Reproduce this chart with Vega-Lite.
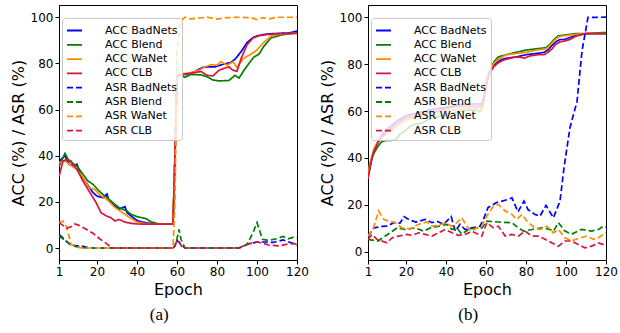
{
  "$schema": "https://vega.github.io/schema/vega-lite/v6.json",
  "padding": {"left": 9, "top": 4, "right": 0, "bottom": 0},
  "spacing": 9,
  "datasets": {
    "a": [
      {"e":1,"s":"ACC BadNets","v":36},{"e":2,"s":"ACC BadNets","v":38.4},{"e":4,"s":"ACC BadNets","v":40},{"e":6,"s":"ACC BadNets","v":36.3},{"e":9,"s":"ACC BadNets","v":35.5},{"e":10,"s":"ACC BadNets","v":36.3},{"e":12,"s":"ACC BadNets","v":31.2},{"e":14.6,"s":"ACC BadNets","v":28.3},{"e":18,"s":"ACC BadNets","v":24},{"e":20,"s":"ACC BadNets","v":22.5},{"e":23,"s":"ACC BadNets","v":21.8},{"e":25,"s":"ACC BadNets","v":23.4},{"e":26,"s":"ACC BadNets","v":20.4},{"e":29,"s":"ACC BadNets","v":18.2},{"e":31,"s":"ACC BadNets","v":16.8},{"e":34,"s":"ACC BadNets","v":17.9},{"e":35,"s":"ACC BadNets","v":15.3},{"e":37,"s":"ACC BadNets","v":13.9},{"e":40,"s":"ACC BadNets","v":11.9},{"e":43,"s":"ACC BadNets","v":11.2},{"e":46,"s":"ACC BadNets","v":10.7},{"e":50,"s":"ACC BadNets","v":10.4},{"e":58,"s":"ACC BadNets","v":10.3},{"e":59,"s":"ACC BadNets","v":40},{"e":60,"s":"ACC BadNets","v":74},{"e":61,"s":"ACC BadNets","v":75},{"e":65,"s":"ACC BadNets","v":75.3},{"e":69,"s":"ACC BadNets","v":76.5},{"e":73,"s":"ACC BadNets","v":78.3},{"e":76,"s":"ACC BadNets","v":78.5},{"e":79,"s":"ACC BadNets","v":78.5},{"e":83,"s":"ACC BadNets","v":79.6},{"e":87,"s":"ACC BadNets","v":80.5},{"e":89,"s":"ACC BadNets","v":81.8},{"e":92,"s":"ACC BadNets","v":85},{"e":95,"s":"ACC BadNets","v":89},{"e":98,"s":"ACC BadNets","v":91.2},{"e":100,"s":"ACC BadNets","v":91.9},{"e":104,"s":"ACC BadNets","v":92.6},{"e":108,"s":"ACC BadNets","v":92.9},{"e":116,"s":"ACC BadNets","v":93.2},{"e":120,"s":"ACC BadNets","v":94},
      {"e":1,"s":"ACC Blend","v":35.5},{"e":4,"s":"ACC Blend","v":41},{"e":6,"s":"ACC Blend","v":37.7},{"e":10,"s":"ACC Blend","v":35.5},{"e":13,"s":"ACC Blend","v":31.9},{"e":15.5,"s":"ACC Blend","v":29},{"e":18,"s":"ACC Blend","v":27.6},{"e":21,"s":"ACC Blend","v":24.7},{"e":25,"s":"ACC Blend","v":21.8},{"e":28,"s":"ACC Blend","v":19.6},{"e":31,"s":"ACC Blend","v":17.5},{"e":35,"s":"ACC Blend","v":16},{"e":37,"s":"ACC Blend","v":14.6},{"e":40,"s":"ACC Blend","v":13.6},{"e":44.6,"s":"ACC Blend","v":12.7},{"e":47,"s":"ACC Blend","v":11.3},{"e":50,"s":"ACC Blend","v":10.6},{"e":53,"s":"ACC Blend","v":10.3},{"e":58,"s":"ACC Blend","v":10.3},{"e":59,"s":"ACC Blend","v":40},{"e":60,"s":"ACC Blend","v":74},{"e":61,"s":"ACC Blend","v":75},{"e":64,"s":"ACC Blend","v":74},{"e":67,"s":"ACC Blend","v":75.2},{"e":72,"s":"ACC Blend","v":75},{"e":75,"s":"ACC Blend","v":74.2},{"e":78,"s":"ACC Blend","v":72.8},{"e":81,"s":"ACC Blend","v":72.4},{"e":86,"s":"ACC Blend","v":72.6},{"e":89,"s":"ACC Blend","v":74.8},{"e":91,"s":"ACC Blend","v":73.6},{"e":93.5,"s":"ACC Blend","v":77},{"e":96,"s":"ACC Blend","v":80},{"e":98.5,"s":"ACC Blend","v":82.8},{"e":101,"s":"ACC Blend","v":84},{"e":103.5,"s":"ACC Blend","v":87.5},{"e":107,"s":"ACC Blend","v":91},{"e":112,"s":"ACC Blend","v":92.3},{"e":120,"s":"ACC Blend","v":93.3},
      {"e":1,"s":"ACC WaNet","v":37},{"e":4,"s":"ACC WaNet","v":37.8},{"e":6,"s":"ACC WaNet","v":36.3},{"e":10,"s":"ACC WaNet","v":34},{"e":13,"s":"ACC WaNet","v":30.5},{"e":16,"s":"ACC WaNet","v":26.1},{"e":19,"s":"ACC WaNet","v":25.4},{"e":21,"s":"ACC WaNet","v":23.3},{"e":25,"s":"ACC WaNet","v":21},{"e":29,"s":"ACC WaNet","v":17.5},{"e":32,"s":"ACC WaNet","v":15.8},{"e":35,"s":"ACC WaNet","v":14},{"e":37,"s":"ACC WaNet","v":12.8},{"e":40,"s":"ACC WaNet","v":11.2},{"e":43,"s":"ACC WaNet","v":10.7},{"e":48,"s":"ACC WaNet","v":10.3},{"e":58,"s":"ACC WaNet","v":10.3},{"e":59,"s":"ACC WaNet","v":40},{"e":60,"s":"ACC WaNet","v":74},{"e":61,"s":"ACC WaNet","v":75.3},{"e":67,"s":"ACC WaNet","v":76},{"e":71,"s":"ACC WaNet","v":77},{"e":74,"s":"ACC WaNet","v":78.5},{"e":77,"s":"ACC WaNet","v":79.4},{"e":80,"s":"ACC WaNet","v":79.2},{"e":82,"s":"ACC WaNet","v":80.8},{"e":85,"s":"ACC WaNet","v":79.2},{"e":88,"s":"ACC WaNet","v":80.7},{"e":90,"s":"ACC WaNet","v":78.2},{"e":93,"s":"ACC WaNet","v":82},{"e":97,"s":"ACC WaNet","v":84},{"e":100,"s":"ACC WaNet","v":85.8},{"e":103,"s":"ACC WaNet","v":88.8},{"e":107,"s":"ACC WaNet","v":91.8},{"e":112,"s":"ACC WaNet","v":92.8},{"e":120,"s":"ACC WaNet","v":93},
      {"e":1,"s":"ACC CLB","v":31},{"e":3,"s":"ACC CLB","v":37.7},{"e":5,"s":"ACC CLB","v":38.4},{"e":7,"s":"ACC CLB","v":37.7},{"e":10,"s":"ACC CLB","v":34},{"e":13,"s":"ACC CLB","v":29},{"e":16,"s":"ACC CLB","v":24.7},{"e":19.6,"s":"ACC CLB","v":19.6},{"e":22,"s":"ACC CLB","v":15.3},{"e":24.6,"s":"ACC CLB","v":13.9},{"e":27,"s":"ACC CLB","v":13.1},{"e":29,"s":"ACC CLB","v":11.7},{"e":31,"s":"ACC CLB","v":12.4},{"e":34,"s":"ACC CLB","v":11.2},{"e":37,"s":"ACC CLB","v":10.7},{"e":40,"s":"ACC CLB","v":10.4},{"e":58,"s":"ACC CLB","v":10.3},{"e":59,"s":"ACC CLB","v":40},{"e":60,"s":"ACC CLB","v":74},{"e":61,"s":"ACC CLB","v":75},{"e":65,"s":"ACC CLB","v":75.5},{"e":69,"s":"ACC CLB","v":76},{"e":72,"s":"ACC CLB","v":76.5},{"e":75,"s":"ACC CLB","v":74.8},{"e":78,"s":"ACC CLB","v":74.6},{"e":81,"s":"ACC CLB","v":77},{"e":84,"s":"ACC CLB","v":78},{"e":86,"s":"ACC CLB","v":78.5},{"e":88,"s":"ACC CLB","v":77},{"e":90,"s":"ACC CLB","v":76.6},{"e":92,"s":"ACC CLB","v":82},{"e":95,"s":"ACC CLB","v":88},{"e":98,"s":"ACC CLB","v":91},{"e":101,"s":"ACC CLB","v":92},{"e":105,"s":"ACC CLB","v":92.5},{"e":110,"s":"ACC CLB","v":92.8},{"e":120,"s":"ACC CLB","v":93},
      {"e":1,"s":"ASR BadNets","v":5.9},{"e":4.6,"s":"ASR BadNets","v":3},{"e":7,"s":"ASR BadNets","v":1.2},{"e":10,"s":"ASR BadNets","v":0.9},{"e":12,"s":"ASR BadNets","v":0.9},{"e":15,"s":"ASR BadNets","v":0.3},{"e":18,"s":"ASR BadNets","v":0},{"e":58,"s":"ASR BadNets","v":0},{"e":59,"s":"ASR BadNets","v":1},{"e":60,"s":"ASR BadNets","v":3.3},{"e":61,"s":"ASR BadNets","v":2.5},{"e":62,"s":"ASR BadNets","v":1.5},{"e":64,"s":"ASR BadNets","v":0},{"e":91,"s":"ASR BadNets","v":0},{"e":95,"s":"ASR BadNets","v":1.5},{"e":100,"s":"ASR BadNets","v":2.6},{"e":104,"s":"ASR BadNets","v":2.6},{"e":108,"s":"ASR BadNets","v":2.4},{"e":113,"s":"ASR BadNets","v":3.5},{"e":116,"s":"ASR BadNets","v":2.6},{"e":120,"s":"ASR BadNets","v":1.2},
      {"e":1,"s":"ASR Blend","v":5.2},{"e":4.6,"s":"ASR Blend","v":3},{"e":7,"s":"ASR Blend","v":1.2},{"e":10,"s":"ASR Blend","v":0.5},{"e":13,"s":"ASR Blend","v":0.2},{"e":15,"s":"ASR Blend","v":0},{"e":58,"s":"ASR Blend","v":0},{"e":59,"s":"ASR Blend","v":1},{"e":60,"s":"ASR Blend","v":4},{"e":61,"s":"ASR Blend","v":8.1},{"e":62,"s":"ASR Blend","v":3.8},{"e":64,"s":"ASR Blend","v":0},{"e":91,"s":"ASR Blend","v":0},{"e":95,"s":"ASR Blend","v":1.6},{"e":98,"s":"ASR Blend","v":6.6},{"e":100,"s":"ASR Blend","v":11},{"e":102.7,"s":"ASR Blend","v":3.8},{"e":105.5,"s":"ASR Blend","v":3.3},{"e":109.7,"s":"ASR Blend","v":4},{"e":113,"s":"ASR Blend","v":5},{"e":115.5,"s":"ASR Blend","v":4},{"e":118,"s":"ASR Blend","v":4.6},{"e":120,"s":"ASR Blend","v":4.5},
      {"e":1,"s":"ASR WaNet","v":11},{"e":3,"s":"ASR WaNet","v":11.7},{"e":4.6,"s":"ASR WaNet","v":9.5},{"e":6,"s":"ASR WaNet","v":5.2},{"e":7,"s":"ASR WaNet","v":1.6},{"e":9.6,"s":"ASR WaNet","v":0.4},{"e":12,"s":"ASR WaNet","v":0},{"e":58,"s":"ASR WaNet","v":0},{"e":59,"s":"ASR WaNet","v":20},{"e":60,"s":"ASR WaNet","v":85},{"e":61,"s":"ASR WaNet","v":94},{"e":62,"s":"ASR WaNet","v":97.5},{"e":63,"s":"ASR WaNet","v":99.3},{"e":64,"s":"ASR WaNet","v":100},{"e":66,"s":"ASR WaNet","v":99.2},{"e":70,"s":"ASR WaNet","v":99.6},{"e":75,"s":"ASR WaNet","v":100},{"e":80,"s":"ASR WaNet","v":99.2},{"e":85,"s":"ASR WaNet","v":99.8},{"e":92,"s":"ASR WaNet","v":100},{"e":97,"s":"ASR WaNet","v":99.8},{"e":100,"s":"ASR WaNet","v":99},{"e":103,"s":"ASR WaNet","v":99.8},{"e":106,"s":"ASR WaNet","v":99.3},{"e":110,"s":"ASR WaNet","v":100},{"e":120,"s":"ASR WaNet","v":100},
      {"e":1,"s":"ASR CLB","v":11},{"e":3,"s":"ASR CLB","v":9.8},{"e":5,"s":"ASR CLB","v":8.6},{"e":7,"s":"ASR CLB","v":9.2},{"e":9,"s":"ASR CLB","v":10.4},{"e":11,"s":"ASR CLB","v":9.8},{"e":14.6,"s":"ASR CLB","v":8.1},{"e":18,"s":"ASR CLB","v":6.4},{"e":21.3,"s":"ASR CLB","v":4},{"e":24.6,"s":"ASR CLB","v":2},{"e":27,"s":"ASR CLB","v":0.4},{"e":28,"s":"ASR CLB","v":0},{"e":58,"s":"ASR CLB","v":0},{"e":59,"s":"ASR CLB","v":1},{"e":60,"s":"ASR CLB","v":3.3},{"e":61,"s":"ASR CLB","v":2.8},{"e":62,"s":"ASR CLB","v":1.2},{"e":63,"s":"ASR CLB","v":0},{"e":91,"s":"ASR CLB","v":0},{"e":95,"s":"ASR CLB","v":1.6},{"e":99.7,"s":"ASR CLB","v":2.7},{"e":103,"s":"ASR CLB","v":2},{"e":106.3,"s":"ASR CLB","v":1.2},{"e":111,"s":"ASR CLB","v":0.9},{"e":114.6,"s":"ASR CLB","v":1.6},{"e":118,"s":"ASR CLB","v":2},{"e":120,"s":"ASR CLB","v":1.6}
    ],
    "b": [
      {"e":1,"s":"ACC BadNets","v":32},{"e":2,"s":"ACC BadNets","v":36},{"e":3,"s":"ACC BadNets","v":40},{"e":4,"s":"ACC BadNets","v":43},{"e":6,"s":"ACC BadNets","v":47},{"e":8,"s":"ACC BadNets","v":50},{"e":10,"s":"ACC BadNets","v":52},{"e":13,"s":"ACC BadNets","v":54},{"e":16,"s":"ACC BadNets","v":56},{"e":20,"s":"ACC BadNets","v":58},{"e":25,"s":"ACC BadNets","v":59},{"e":30,"s":"ACC BadNets","v":60},{"e":35,"s":"ACC BadNets","v":61},{"e":40,"s":"ACC BadNets","v":61.5},{"e":45,"s":"ACC BadNets","v":62.5},{"e":50,"s":"ACC BadNets","v":63},{"e":55,"s":"ACC BadNets","v":63},{"e":58,"s":"ACC BadNets","v":63},{"e":59,"s":"ACC BadNets","v":66},{"e":60,"s":"ACC BadNets","v":71},{"e":61,"s":"ACC BadNets","v":75},{"e":62,"s":"ACC BadNets","v":77},{"e":64,"s":"ACC BadNets","v":79.5},{"e":66,"s":"ACC BadNets","v":81},{"e":68,"s":"ACC BadNets","v":82},{"e":70,"s":"ACC BadNets","v":82.5},{"e":75,"s":"ACC BadNets","v":83},{"e":80,"s":"ACC BadNets","v":84},{"e":85,"s":"ACC BadNets","v":84.5},{"e":89,"s":"ACC BadNets","v":85},{"e":91,"s":"ACC BadNets","v":86},{"e":93,"s":"ACC BadNets","v":88},{"e":95,"s":"ACC BadNets","v":89.5},{"e":97,"s":"ACC BadNets","v":90.5},{"e":99,"s":"ACC BadNets","v":90.5},{"e":101,"s":"ACC BadNets","v":91},{"e":104,"s":"ACC BadNets","v":92},{"e":107,"s":"ACC BadNets","v":92.5},{"e":110,"s":"ACC BadNets","v":93},{"e":120,"s":"ACC BadNets","v":93},
      {"e":1,"s":"ACC Blend","v":32},{"e":2,"s":"ACC Blend","v":37},{"e":3,"s":"ACC Blend","v":40},{"e":4,"s":"ACC Blend","v":42},{"e":6,"s":"ACC Blend","v":45},{"e":8,"s":"ACC Blend","v":47},{"e":10,"s":"ACC Blend","v":47.5},{"e":13,"s":"ACC Blend","v":47.5},{"e":15,"s":"ACC Blend","v":48},{"e":17,"s":"ACC Blend","v":50},{"e":20,"s":"ACC Blend","v":52},{"e":23,"s":"ACC Blend","v":54},{"e":28,"s":"ACC Blend","v":55},{"e":33,"s":"ACC Blend","v":57},{"e":38,"s":"ACC Blend","v":58},{"e":43,"s":"ACC Blend","v":59},{"e":48,"s":"ACC Blend","v":60},{"e":53,"s":"ACC Blend","v":60.5},{"e":57,"s":"ACC Blend","v":60},{"e":58,"s":"ACC Blend","v":61},{"e":59,"s":"ACC Blend","v":65},{"e":60,"s":"ACC Blend","v":71},{"e":61,"s":"ACC Blend","v":75},{"e":62,"s":"ACC Blend","v":77.5},{"e":64,"s":"ACC Blend","v":81},{"e":66,"s":"ACC Blend","v":83},{"e":68,"s":"ACC Blend","v":83.5},{"e":70,"s":"ACC Blend","v":84},{"e":75,"s":"ACC Blend","v":85},{"e":80,"s":"ACC Blend","v":86},{"e":85,"s":"ACC Blend","v":86.5},{"e":90,"s":"ACC Blend","v":87},{"e":92,"s":"ACC Blend","v":88.5},{"e":94,"s":"ACC Blend","v":90.5},{"e":96,"s":"ACC Blend","v":92},{"e":100,"s":"ACC Blend","v":92.5},{"e":105,"s":"ACC Blend","v":93},{"e":110,"s":"ACC Blend","v":93},{"e":120,"s":"ACC Blend","v":93.5},
      {"e":1,"s":"ACC WaNet","v":33},{"e":2,"s":"ACC WaNet","v":38},{"e":3,"s":"ACC WaNet","v":41},{"e":4,"s":"ACC WaNet","v":44},{"e":6,"s":"ACC WaNet","v":47},{"e":8,"s":"ACC WaNet","v":49},{"e":10,"s":"ACC WaNet","v":50},{"e":13,"s":"ACC WaNet","v":52},{"e":16,"s":"ACC WaNet","v":54},{"e":20,"s":"ACC WaNet","v":56},{"e":25,"s":"ACC WaNet","v":57.5},{"e":30,"s":"ACC WaNet","v":58.5},{"e":35,"s":"ACC WaNet","v":59.5},{"e":40,"s":"ACC WaNet","v":60},{"e":45,"s":"ACC WaNet","v":60.5},{"e":50,"s":"ACC WaNet","v":61},{"e":55,"s":"ACC WaNet","v":61},{"e":57,"s":"ACC WaNet","v":62},{"e":58,"s":"ACC WaNet","v":60},{"e":59,"s":"ACC WaNet","v":64},{"e":60,"s":"ACC WaNet","v":70},{"e":61,"s":"ACC WaNet","v":74.5},{"e":62,"s":"ACC WaNet","v":77},{"e":64,"s":"ACC WaNet","v":80.5},{"e":66,"s":"ACC WaNet","v":82},{"e":68,"s":"ACC WaNet","v":83},{"e":70,"s":"ACC WaNet","v":84},{"e":75,"s":"ACC WaNet","v":84.5},{"e":80,"s":"ACC WaNet","v":85},{"e":85,"s":"ACC WaNet","v":86},{"e":90,"s":"ACC WaNet","v":86.5},{"e":92,"s":"ACC WaNet","v":88},{"e":94,"s":"ACC WaNet","v":90},{"e":96,"s":"ACC WaNet","v":91.5},{"e":98,"s":"ACC WaNet","v":92},{"e":103,"s":"ACC WaNet","v":92.5},{"e":110,"s":"ACC WaNet","v":93},{"e":120,"s":"ACC WaNet","v":93},
      {"e":1,"s":"ACC CLB","v":31},{"e":2,"s":"ACC CLB","v":36},{"e":3,"s":"ACC CLB","v":40},{"e":4,"s":"ACC CLB","v":43},{"e":6,"s":"ACC CLB","v":46.5},{"e":8,"s":"ACC CLB","v":49},{"e":10,"s":"ACC CLB","v":51},{"e":13,"s":"ACC CLB","v":53},{"e":16,"s":"ACC CLB","v":55},{"e":20,"s":"ACC CLB","v":57},{"e":25,"s":"ACC CLB","v":58},{"e":30,"s":"ACC CLB","v":59},{"e":35,"s":"ACC CLB","v":60},{"e":40,"s":"ACC CLB","v":61},{"e":45,"s":"ACC CLB","v":62},{"e":58,"s":"ACC CLB","v":62},{"e":59,"s":"ACC CLB","v":65},{"e":60,"s":"ACC CLB","v":70},{"e":61,"s":"ACC CLB","v":74},{"e":62,"s":"ACC CLB","v":76.5},{"e":64,"s":"ACC CLB","v":79},{"e":66,"s":"ACC CLB","v":80.5},{"e":68,"s":"ACC CLB","v":81.5},{"e":70,"s":"ACC CLB","v":82},{"e":74,"s":"ACC CLB","v":83},{"e":77,"s":"ACC CLB","v":83},{"e":79,"s":"ACC CLB","v":82.5},{"e":82,"s":"ACC CLB","v":83.5},{"e":86,"s":"ACC CLB","v":84},{"e":89,"s":"ACC CLB","v":84},{"e":91,"s":"ACC CLB","v":85},{"e":93,"s":"ACC CLB","v":86.5},{"e":95,"s":"ACC CLB","v":88.5},{"e":97,"s":"ACC CLB","v":89.5},{"e":100,"s":"ACC CLB","v":90},{"e":102,"s":"ACC CLB","v":90.5},{"e":104,"s":"ACC CLB","v":91.5},{"e":107,"s":"ACC CLB","v":92.5},{"e":110,"s":"ACC CLB","v":93},{"e":120,"s":"ACC CLB","v":93},
      {"e":1,"s":"ASR BadNets","v":6.5},{"e":4,"s":"ASR BadNets","v":10.2},{"e":8,"s":"ASR BadNets","v":10.8},{"e":11,"s":"ASR BadNets","v":11},{"e":14,"s":"ASR BadNets","v":12.5},{"e":17,"s":"ASR BadNets","v":12.2},{"e":19,"s":"ASR BadNets","v":15},{"e":22,"s":"ASR BadNets","v":13.5},{"e":25,"s":"ASR BadNets","v":12.7},{"e":29.6,"s":"ASR BadNets","v":13.8},{"e":33,"s":"ASR BadNets","v":12.4},{"e":35.4,"s":"ASR BadNets","v":13.1},{"e":38.8,"s":"ASR BadNets","v":11.7},{"e":42.6,"s":"ASR BadNets","v":15},{"e":44.6,"s":"ASR BadNets","v":8.8},{"e":47,"s":"ASR BadNets","v":11.7},{"e":49.6,"s":"ASR BadNets","v":9.5},{"e":53,"s":"ASR BadNets","v":10.2},{"e":57,"s":"ASR BadNets","v":10.9},{"e":58.7,"s":"ASR BadNets","v":13.8},{"e":61,"s":"ASR BadNets","v":18.8},{"e":65,"s":"ASR BadNets","v":20.9},{"e":71,"s":"ASR BadNets","v":22.3},{"e":73,"s":"ASR BadNets","v":23},{"e":76,"s":"ASR BadNets","v":17},{"e":79,"s":"ASR BadNets","v":21.6},{"e":81,"s":"ASR BadNets","v":18},{"e":84.5,"s":"ASR BadNets","v":15.9},{"e":87,"s":"ASR BadNets","v":15.2},{"e":90,"s":"ASR BadNets","v":19.8},{"e":93.7,"s":"ASR BadNets","v":14.5},{"e":97,"s":"ASR BadNets","v":21.6},{"e":99,"s":"ASR BadNets","v":35.8},{"e":102,"s":"ASR BadNets","v":53},{"e":105.5,"s":"ASR BadNets","v":64},{"e":108,"s":"ASR BadNets","v":85.6},{"e":111,"s":"ASR BadNets","v":99.9},{"e":120,"s":"ASR BadNets","v":100},
      {"e":1,"s":"ASR Blend","v":5.3},{"e":6,"s":"ASR Blend","v":4.6},{"e":11,"s":"ASR Blend","v":7.5},{"e":15.5,"s":"ASR Blend","v":10.2},{"e":19.6,"s":"ASR Blend","v":9.5},{"e":24.6,"s":"ASR Blend","v":10.2},{"e":28.8,"s":"ASR Blend","v":8.8},{"e":32.2,"s":"ASR Blend","v":10.2},{"e":36.3,"s":"ASR Blend","v":10.9},{"e":40.4,"s":"ASR Blend","v":11.7},{"e":43,"s":"ASR Blend","v":9.5},{"e":45.4,"s":"ASR Blend","v":10.2},{"e":47.9,"s":"ASR Blend","v":7.5},{"e":51.2,"s":"ASR Blend","v":9.5},{"e":54.6,"s":"ASR Blend","v":10.2},{"e":58,"s":"ASR Blend","v":10.2},{"e":60.4,"s":"ASR Blend","v":13.1},{"e":66,"s":"ASR Blend","v":12.7},{"e":73,"s":"ASR Blend","v":12.4},{"e":76.2,"s":"ASR Blend","v":10.2},{"e":78.7,"s":"ASR Blend","v":8.8},{"e":83,"s":"ASR Blend","v":9.5},{"e":88,"s":"ASR Blend","v":10.2},{"e":92,"s":"ASR Blend","v":9.5},{"e":93.7,"s":"ASR Blend","v":8.8},{"e":96.2,"s":"ASR Blend","v":12.4},{"e":99.5,"s":"ASR Blend","v":8.8},{"e":102.8,"s":"ASR Blend","v":7.5},{"e":107.8,"s":"ASR Blend","v":9.5},{"e":112.8,"s":"ASR Blend","v":8.8},{"e":116.2,"s":"ASR Blend","v":9.5},{"e":118.7,"s":"ASR Blend","v":10.9},{"e":120,"s":"ASR Blend","v":10.5},
      {"e":1,"s":"ASR WaNet","v":6.7},{"e":3.8,"s":"ASR WaNet","v":10.2},{"e":6.3,"s":"ASR WaNet","v":17.4},{"e":8.8,"s":"ASR WaNet","v":13.8},{"e":11.3,"s":"ASR WaNet","v":13.1},{"e":14.6,"s":"ASR WaNet","v":12.4},{"e":18,"s":"ASR WaNet","v":10.2},{"e":22.1,"s":"ASR WaNet","v":9.8},{"e":26.3,"s":"ASR WaNet","v":11.7},{"e":30.5,"s":"ASR WaNet","v":12.7},{"e":33,"s":"ASR WaNet","v":10.9},{"e":36.3,"s":"ASR WaNet","v":11.2},{"e":39.6,"s":"ASR WaNet","v":12.4},{"e":43,"s":"ASR WaNet","v":10.9},{"e":45.4,"s":"ASR WaNet","v":12.4},{"e":47.9,"s":"ASR WaNet","v":14.5},{"e":50.4,"s":"ASR WaNet","v":10.9},{"e":52.9,"s":"ASR WaNet","v":8.8},{"e":55.4,"s":"ASR WaNet","v":10.2},{"e":57.9,"s":"ASR WaNet","v":10.9},{"e":60.4,"s":"ASR WaNet","v":15.2},{"e":63.7,"s":"ASR WaNet","v":19.5},{"e":66.2,"s":"ASR WaNet","v":20.2},{"e":69.6,"s":"ASR WaNet","v":17.4},{"e":72.9,"s":"ASR WaNet","v":15.9},{"e":75.4,"s":"ASR WaNet","v":13.8},{"e":77.9,"s":"ASR WaNet","v":15.9},{"e":81.2,"s":"ASR WaNet","v":12.4},{"e":84.5,"s":"ASR WaNet","v":10.2},{"e":87,"s":"ASR WaNet","v":9.5},{"e":90.4,"s":"ASR WaNet","v":10.9},{"e":93.7,"s":"ASR WaNet","v":8.1},{"e":96.2,"s":"ASR WaNet","v":9.5},{"e":99.5,"s":"ASR WaNet","v":6},{"e":102.8,"s":"ASR WaNet","v":4.6},{"e":107,"s":"ASR WaNet","v":6},{"e":110.3,"s":"ASR WaNet","v":6.7},{"e":113.7,"s":"ASR WaNet","v":5.3},{"e":116.2,"s":"ASR WaNet","v":6},{"e":120,"s":"ASR WaNet","v":8.1},
      {"e":1,"s":"ASR CLB","v":5.3},{"e":3,"s":"ASR CLB","v":7.4},{"e":5.5,"s":"ASR CLB","v":5.3},{"e":10.5,"s":"ASR CLB","v":3.8},{"e":13,"s":"ASR CLB","v":5.9},{"e":16.3,"s":"ASR CLB","v":6.7},{"e":20.4,"s":"ASR CLB","v":7.4},{"e":23,"s":"ASR CLB","v":7},{"e":26.3,"s":"ASR CLB","v":8.1},{"e":29.6,"s":"ASR CLB","v":7.4},{"e":33,"s":"ASR CLB","v":6.7},{"e":36.3,"s":"ASR CLB","v":8.1},{"e":39.6,"s":"ASR CLB","v":9.5},{"e":43,"s":"ASR CLB","v":8.1},{"e":46.3,"s":"ASR CLB","v":7},{"e":49.6,"s":"ASR CLB","v":7.4},{"e":52.9,"s":"ASR CLB","v":8.8},{"e":56.3,"s":"ASR CLB","v":7.4},{"e":57.9,"s":"ASR CLB","v":6.7},{"e":60.4,"s":"ASR CLB","v":12.4},{"e":63.7,"s":"ASR CLB","v":10.2},{"e":66.2,"s":"ASR CLB","v":10.9},{"e":69.6,"s":"ASR CLB","v":6.7},{"e":72.9,"s":"ASR CLB","v":7.4},{"e":76.2,"s":"ASR CLB","v":6.7},{"e":79.6,"s":"ASR CLB","v":8.8},{"e":82.9,"s":"ASR CLB","v":6.7},{"e":86.2,"s":"ASR CLB","v":6.7},{"e":89.6,"s":"ASR CLB","v":5.3},{"e":92.9,"s":"ASR CLB","v":3.8},{"e":96.2,"s":"ASR CLB","v":2.4},{"e":99.5,"s":"ASR CLB","v":4.6},{"e":102.8,"s":"ASR CLB","v":4.6},{"e":106.1,"s":"ASR CLB","v":3.1},{"e":109.4,"s":"ASR CLB","v":1.7},{"e":112.8,"s":"ASR CLB","v":2.4},{"e":116.2,"s":"ASR CLB","v":3.8},{"e":120,"s":"ASR CLB","v":2.7}
    ]
  },
  "hconcat": [
    {
      "data": {"name": "a"},
      "width": 238,
      "height": 255,
      "title": {"text": "(a)", "orient": "bottom", "anchor": "middle", "frame": "bounds", "font": "Liberation Serif", "fontSize": 17, "fontWeight": "normal", "color": "black", "offset": 10},
      "mark": {"type": "line", "strokeWidth": 1.7, "clip": true},
      "encoding": {
        "x": {"field": "e", "type": "quantitative", "title": "Epoch", "scale": {"domain": [1, 120], "nice": false, "zero": false}, "axis": {"values": [1, 20, 40, 60, 80, 100, 120]}},
        "y": {"field": "v", "type": "quantitative", "title": "ACC (%) / ASR (%)", "scale": {"domain": [-5.2, 105.3], "nice": false, "zero": false}, "axis": {"values": [0, 20, 40, 60, 80, 100]}},
        "color": {"field": "s", "type": "nominal", "title": null, "sort": null,
          "scale": {"domain": ["ACC BadNets","ACC Blend","ACC WaNet","ACC CLB","ASR BadNets","ASR Blend","ASR WaNet","ASR CLB"], "range": ["#0000ff","#008000","#ff8c00","#dc143c","#0000ff","#008000","#ff8c00","#dc143c"]},
          "legend": {"orient": "none", "legendX": 3, "legendY": 13, "fillColor": "rgba(255,255,255,0.8)", "strokeColor": "#c8c8c8", "cornerRadius": 3, "zindex": 5}},
        "strokeDash": {"field": "s", "type": "nominal", "title": null, "sort": null,
          "scale": {"domain": ["ACC BadNets","ACC Blend","ACC WaNet","ACC CLB","ASR BadNets","ASR Blend","ASR WaNet","ASR CLB"], "range": [[1,0],[1,0],[1,0],[1,0],[6,3],[6,3],[6,3],[6,3]]},
          "legend": {"orient": "none", "legendX": 3, "legendY": 13, "fillColor": "rgba(255,255,255,0.8)", "strokeColor": "#c8c8c8", "cornerRadius": 3, "zindex": 5}}
      }
    },
    {
      "data": {"name": "b"},
      "width": 238,
      "height": 255,
      "title": {"text": "(b)", "orient": "bottom", "anchor": "middle", "frame": "bounds", "font": "Liberation Serif", "fontSize": 17, "fontWeight": "normal", "color": "black", "offset": 10},
      "mark": {"type": "line", "strokeWidth": 1.7, "clip": true},
      "encoding": {
        "x": {"field": "e", "type": "quantitative", "title": "Epoch", "scale": {"domain": [1, 120], "nice": false, "zero": false}, "axis": {"values": [1, 20, 40, 60, 80, 100, 120]}},
        "y": {"field": "v", "type": "quantitative", "title": "ACC (%) / ASR (%)", "scale": {"domain": [-3.5, 105.2], "nice": false, "zero": false}, "axis": {"values": [0, 20, 40, 60, 80, 100]}},
        "color": {"field": "s", "type": "nominal", "title": null, "sort": null,
          "scale": {"domain": ["ACC BadNets","ACC Blend","ACC WaNet","ACC CLB","ASR BadNets","ASR Blend","ASR WaNet","ASR CLB"], "range": ["#0000ff","#008000","#ff8c00","#dc143c","#0000ff","#008000","#ff8c00","#dc143c"]},
          "legend": {"orient": "none", "legendX": 3, "legendY": 13, "fillColor": "rgba(255,255,255,0.8)", "strokeColor": "#c8c8c8", "cornerRadius": 3, "zindex": 5}},
        "strokeDash": {"field": "s", "type": "nominal", "title": null, "sort": null,
          "scale": {"domain": ["ACC BadNets","ACC Blend","ACC WaNet","ACC CLB","ASR BadNets","ASR Blend","ASR WaNet","ASR CLB"], "range": [[1,0],[1,0],[1,0],[1,0],[6,3],[6,3],[6,3],[6,3]]},
          "legend": {"orient": "none", "legendX": 3, "legendY": 13, "fillColor": "rgba(255,255,255,0.8)", "strokeColor": "#c8c8c8", "cornerRadius": 3, "zindex": 5}}
      }
    }
  ],
  "resolve": {"scale": {"color": "independent", "strokeDash": "independent", "y": "independent"}, "legend": {"color": "independent", "strokeDash": "independent"}},
  "config": {
    "background": "white",
    "font": "DejaVu Sans",
    "view": {"stroke": "black", "strokeWidth": 1},
    "axis": {"grid": false, "domainColor": "black", "tickColor": "black", "tickSize": 4, "labelColor": "black", "labelFont": "DejaVu Sans", "labelFontSize": 12, "labelPadding": 2, "labelFlush": false, "labelOverlap": false, "titleColor": "black", "titleFont": "DejaVu Sans", "titleFontSize": 16, "titleFontWeight": "normal", "titlePadding": 4},
    "legend": {"symbolType": "stroke", "symbolSize": 225, "symbolStrokeWidth": 1.8, "labelFont": "DejaVu Sans", "labelFontSize": 11, "labelColor": "black", "labelOffset": 22, "rowPadding": 0.3, "padding": 4}
  }
}
